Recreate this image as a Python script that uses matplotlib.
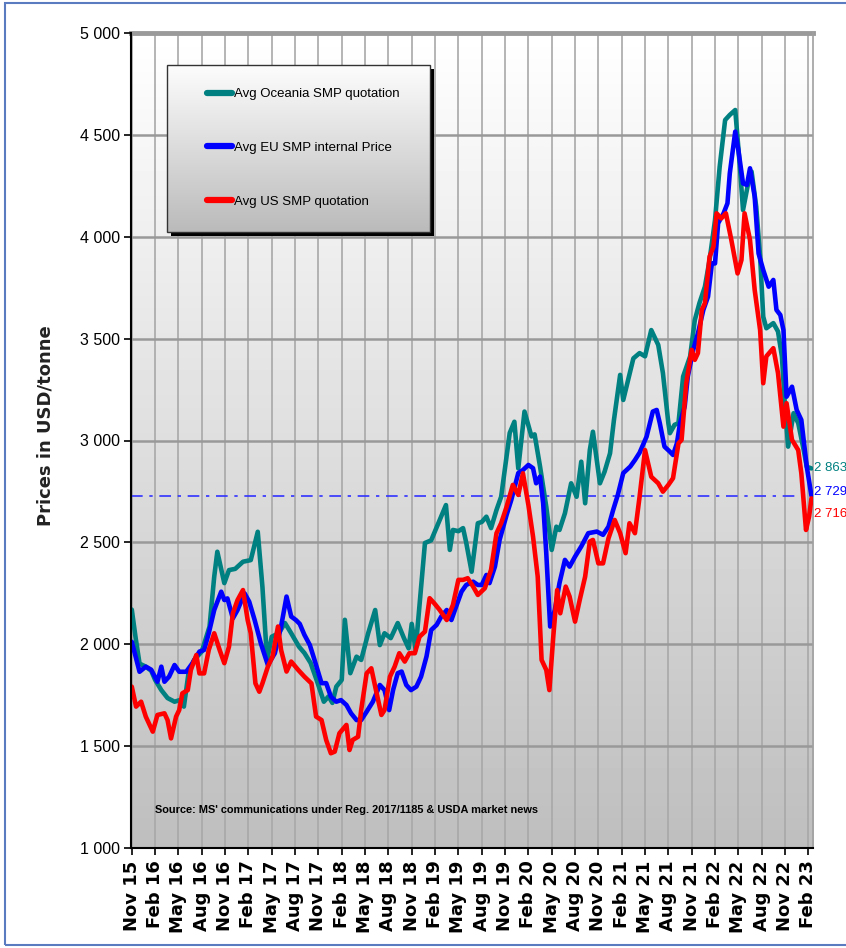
import matplotlib
matplotlib.use('Agg')
import matplotlib.pyplot as plt
import numpy as np
from matplotlib.patches import Rectangle

# ---------------- data ----------------
# x = months since Nov 2015
tick_labels = ['Nov 15', 'Feb 16', 'May 16', 'Aug 16', 'Nov 16', 'Feb 17', 'May 17', 'Aug 17',
               'Nov 17', 'Feb 18', 'May 18', 'Aug 18', 'Nov 18', 'Feb 19', 'May 19', 'Aug 19',
               'Nov 19', 'Feb 20', 'May 20', 'Aug 20', 'Nov 20', 'Feb 21', 'May 21', 'Aug 21',
               'Nov 21', 'Feb 22', 'May 22', 'Aug 22', 'Nov 22', 'Feb 23']
tick_months = [0, 3, 6, 9, 12, 15, 18, 21, 24, 27, 30, 33, 36, 39, 42, 45, 48, 51, 54, 57,
               60, 63, 66, 69, 72, 75, 78, 81, 84, 87]

oce_m = [0, 0.5, 1.0, 1.8, 2.5, 3.0, 3.8, 4.6, 5.5, 6.1, 6.7, 7.3, 8.0, 9.0, 10.0, 10.6, 11.0,
         11.9, 12.5, 13.3, 14.3, 15.3, 16.2, 16.8, 17.4, 18.0, 18.9, 19.7, 20.5, 21.5, 22.2,
         23.0, 23.9, 24.7, 25.3, 25.8, 26.3, 27.0, 27.4, 28.1, 28.9, 29.5, 30.4, 31.3, 31.9,
         32.5, 33.3, 34.2, 35.0, 35.6, 36.0, 36.5, 37.1, 37.7, 38.5, 39.6, 40.4, 40.9, 41.3,
         42.0, 42.6, 43.0, 43.7, 44.5, 45.0, 45.6, 46.2, 46.9, 47.5, 48.6, 49.2, 49.7, 50.5,
         51.4, 51.8, 52.5, 53.3, 54.0, 54.6, 55.0, 55.7, 56.5, 57.2, 57.8, 58.3, 58.9, 59.3,
         60.2, 60.8, 61.5, 62.0, 62.8, 63.2, 64.5, 65.3, 66.0, 66.8, 67.7, 68.3, 69.0, 69.2,
         69.8, 70.3, 70.9, 71.8, 72.4, 73.0, 73.7, 74.3, 75.0, 75.6, 76.3, 76.9, 77.6, 78.2,
         78.6, 79.2, 79.7, 80.3, 80.8, 81.2, 81.6, 82.5, 83.1, 83.6, 84.0, 84.4, 85.1, 85.7,
         86.4, 86.8, 87.4]
oce_v = [2170, 2030, 1905, 1890, 1870, 1825, 1775, 1736, 1718, 1725, 1694, 1859, 1922, 1964,
         2087, 2331, 2454, 2300, 2364, 2370, 2405, 2413, 2552, 2282, 1922, 2037, 2054, 2104,
         2054, 1988, 1957, 1908, 1810, 1718, 1744, 1712, 1792, 1825, 2120, 1858, 1939, 1923,
         2054, 2168, 1996, 2054, 2030, 2104, 2030, 1980, 2100, 1973, 2234, 2497, 2510, 2610,
         2683, 2463, 2561, 2555, 2570, 2500, 2356, 2594, 2600, 2626, 2570, 2659, 2724, 3037,
         3092, 2863, 3142, 3020, 3030, 2872, 2675, 2463, 2577, 2561, 2643, 2790, 2724, 2896,
         2692, 2953, 3043, 2790, 2847, 2937, 3100, 3322, 3199, 3403, 3429, 3413, 3542, 3469,
         3331, 3085, 3036, 3077, 3085, 3314, 3413, 3591, 3675, 3755, 3886, 4082, 4344, 4573,
         4598, 4622, 4344, 4131, 4250, 4320, 4147, 3902, 3608, 3551, 3576, 3535, 3413, 3167,
         2970, 3134, 3085, 2954, 2871, 2863]

eu_m = [0, 1.0, 1.8, 2.5, 3.3, 3.8, 4.2, 4.8, 5.5, 6.1, 7.0, 7.8, 8.7, 9.3, 9.9, 10.6, 11.5,
        11.9, 12.3, 13.0, 13.6, 14.5, 15.1, 15.8, 16.6, 17.5, 18.4, 19.2, 19.9, 20.5, 21.1,
        21.6, 22.2, 22.9, 23.5, 24.4, 25.0, 25.6, 26.3, 26.9, 27.6, 28.2, 28.9, 29.5, 30.2,
        31.0, 31.9, 32.5, 33.1, 33.6, 34.2, 34.7, 35.3, 35.9, 36.6, 37.2, 37.9, 38.5, 39.2,
        39.8, 40.5, 41.1, 41.7, 42.4, 43.0, 43.9, 44.5, 45.0, 45.6, 46.0, 46.7, 47.3, 48.2,
        48.8, 49.7, 50.3, 51.0, 51.6, 52.0, 52.5, 52.9, 53.3, 53.8, 54.4, 55.0, 55.7, 56.3,
        57.0, 57.8, 58.7, 59.8, 60.6, 61.3, 61.9, 62.5, 63.2, 64.1, 64.7, 65.3, 66.2, 67.0,
        67.5, 67.9, 68.5, 69.2, 69.6, 70.1, 70.5, 71.1, 71.5, 72.2, 72.8, 73.5, 74.1, 74.6,
        75.0, 75.4, 76.1, 76.6, 76.9, 77.6, 78.0, 78.6, 79.1, 79.5, 80.1, 80.6, 81.2, 81.9,
        82.5, 82.9, 83.4, 83.8, 84.2, 84.9, 85.5, 86.1, 86.8, 87.4]
eu_v = [2012, 1865, 1890, 1875, 1816, 1890, 1816, 1841, 1898, 1865, 1865, 1907, 1964, 1972,
        2054, 2168, 2258, 2217, 2225, 2127, 2168, 2250, 2209, 2119, 2004, 1898, 1956, 2087,
        2234, 2136, 2119, 2100, 2046, 1996, 1923, 1809, 1809, 1743, 1718, 1726, 1702, 1661,
        1628, 1628, 1669, 1718, 1800, 1775, 1677, 1775, 1858, 1866, 1800, 1775, 1792, 1841,
        1940, 2070, 2095, 2136, 2168, 2119, 2184, 2258, 2291, 2307, 2291, 2291, 2340, 2300,
        2381, 2512, 2635, 2708, 2840, 2855, 2880, 2864, 2790, 2823, 2692, 2447, 2087, 2168,
        2300, 2414, 2381, 2430, 2480, 2545, 2553, 2537, 2577, 2659, 2733, 2840, 2872, 2904,
        2940, 3019, 3142, 3150, 3085, 2970, 2945, 2929, 2986, 3085, 3167, 3314, 3445, 3526,
        3641, 3706, 3869, 3869, 4066, 4115, 4164, 4311, 4516, 4426, 4262, 4254, 4336, 4197,
        3918, 3837, 3755, 3788, 3641, 3616, 3542, 3215, 3264, 3150, 3101, 2871, 2729]

us_m = [0, 0.55, 1.2, 1.8, 2.7, 3.3, 4.2, 4.6, 5.05, 5.7, 6.1, 6.5, 7.2, 7.6, 8.3, 8.7, 9.3,
        9.9, 10.6, 11.3, 11.9, 12.5, 13.0, 13.6, 14.3, 14.9, 15.3, 15.9, 16.4, 16.8, 17.5,
        18.1, 18.8, 19.2, 19.9, 20.5, 21.4, 22.2, 23.1, 23.7, 24.4, 25.0, 25.6, 26.1, 26.7,
        27.6, 28.0, 28.4, 29.1, 29.5, 30.2, 30.8, 31.4, 32.1, 32.5, 33.2, 33.8, 34.4, 35.1,
        35.7, 36.4, 37.0, 37.7, 38.3, 38.9, 39.6, 40.5, 41.3, 42.0, 42.6, 43.2, 43.9, 44.5,
        45.4, 46.2, 46.9, 47.5, 48.2, 49.0, 49.7, 50.3, 51.0, 51.6, 52.2, 52.7, 53.3, 53.7,
        54.2, 54.7, 55.1, 55.8, 56.3, 57.0, 57.6, 58.3, 58.9, 59.3, 60.0, 60.6, 61.3, 62.1,
        62.8, 63.5, 64.0, 64.7, 65.3, 66.0, 66.8, 67.7, 68.3, 69.0, 69.6, 70.3, 70.7, 71.3,
        72.0, 72.4, 72.8, 73.3, 73.7, 74.3, 74.8, 75.2, 75.8, 76.4, 77.1, 77.9, 78.4, 78.8,
        79.5, 80.1, 80.8, 81.2, 81.6, 82.5, 83.1, 83.8, 84.2, 84.9, 85.7, 86.1, 86.7, 87.1,
        87.4]
us_v = [1792, 1694, 1718, 1645, 1571, 1653, 1661, 1628, 1538, 1645, 1677, 1759, 1775, 1874,
        1947, 1857, 1857, 1972, 2054, 1972, 1907, 1988, 2152, 2217, 2266, 2119, 2054, 1808,
        1767, 1808, 1890, 1940, 2087, 1972, 1866, 1915, 1874, 1841, 1808, 1645, 1628, 1530,
        1465, 1473, 1563, 1604, 1481, 1530, 1546, 1677, 1857, 1882, 1775, 1653, 1677, 1841,
        1890, 1956, 1915, 1956, 1956, 2037, 2062, 2226, 2201, 2168, 2119, 2193, 2316, 2316,
        2324, 2283, 2242, 2275, 2365, 2545, 2594, 2675, 2782, 2733, 2839, 2684, 2528, 2332,
        1923, 1874, 1775, 2037, 2266, 2152, 2283, 2234, 2111, 2217, 2332, 2504, 2512, 2397,
        2397, 2520, 2610, 2545, 2447, 2594, 2545, 2724, 2953, 2822, 2790, 2749, 2782, 2815,
        2986, 3003, 3281, 3445, 3396, 3429, 3641, 3674, 3902, 3951, 4115, 4090, 4115, 3984,
        3820, 3886, 4115, 3984, 3739, 3542, 3281, 3413, 3453, 3331, 3068, 3183, 3003, 2953,
        2839, 2561, 2627, 2716]

series_names = ['Avg Oceania SMP quotation', 'Avg EU SMP internal Price', 'Avg US SMP quotation']
series_colors = ['#008080', '#0000ff', '#ff0000']
y_ticks = [1000, 1500, 2000, 2500, 3000, 3500, 4000, 4500, 5000]
source_text = "Source: MS' communications under Reg. 2017/1185 & USDA market news"
y_title = 'Prices in USD/tonne'

NARROW = ['Liberation Sans', 'DejaVu Sans']

# ---------------- figure ----------------
W, H = 846, 948
fig = plt.figure(figsize=(W / 100, H / 100), dpi=100)
fig.patch.set_facecolor('white')

ax_l, ax_r, ax_t, ax_b = 131, 813, 33, 848
ax = fig.add_axes([ax_l / W, 1 - ax_b / H, (ax_r - ax_l) / W, (ax_b - ax_t) / H])
ax.set_xlim(-0.1, 87.6)
ax.set_ylim(1000, 5000)

# gradient background
grad = np.linspace(1.0, 0.745, 256).reshape(-1, 1)
ax.imshow(grad, cmap='gray', vmin=0, vmax=1, aspect='auto', extent=[0, 1, 0, 1],
          transform=ax.transAxes, zorder=0, interpolation='bicubic')

# grid
for m in tick_months:
    ax.axvline(m, color='#a8a8a8', lw=1.2, zorder=1)
for v in y_ticks:
    ax.axhline(v, color='#999999', lw=1.8, zorder=1)
ax.axhline(5000, color='#9a9a9a', lw=3.5, zorder=1, clip_on=False)

# reference line
ax.axhline(eu_v[-1], color='#3333ff', lw=1.2, ls=(0, (7, 4, 2, 4)), zorder=2)

# series
lines = []
for (mm, vv), name, col, z in zip([(oce_m, oce_v), (eu_m, eu_v), (us_m, us_v)],
                                  series_names, series_colors, [3, 4, 5]):
    ln, = ax.plot(mm, vv, color=col, lw=3.3, label=name, zorder=z,
                  solid_joinstyle='round', solid_capstyle='round')
    lines.append(ln)

# end labels
offsets = [0, 4, -16]
for (mm, vv), col, off in zip([(oce_m, oce_v), (eu_m, eu_v), (us_m, us_v)], series_colors, offsets):
    txt = f'{vv[-1]:,}'.replace(',', ' ')
    ax.annotate(txt, xy=(mm[-1], vv[-1]), xytext=(3, off), textcoords='offset pixels',
                color=col, fontsize=9.5, family=NARROW, va='center', ha='left',
                annotation_clip=False, zorder=6)

# axes styling
ax.set_yticks(y_ticks)
ax.set_yticklabels([f'{v:,}'.replace(',', ' ') for v in y_ticks], family=NARROW, fontsize=11.5)
ax.set_xticks(tick_months)
ax.set_xticklabels(tick_labels, rotation=90, family='DejaVu Sans', fontweight='bold', fontsize=13)
ax.tick_params(axis='y', length=5, width=1.2, color='black', pad=3)
ax.tick_params(axis='x', length=5, width=1.2, color='black', pad=4)
for s in ['left', 'bottom']:
    ax.spines[s].set_color('black')
    ax.spines[s].set_linewidth(1.5)
    ax.spines[s].set_zorder(7)
ax.spines['top'].set_visible(False)
ax.spines['right'].set_color('#a0a0a0')
ax.spines['right'].set_linewidth(1.2)

# legend box (gradient + shadow + border)
bx0, bx1 = (167 - ax_l) / (ax_r - ax_l), (430 - ax_l) / (ax_r - ax_l)
by1, by0 = 1 - (65 - ax_t) / (ax_b - ax_t), 1 - (232 - ax_t) / (ax_b - ax_t)
dx, dy = 4 / (ax_r - ax_l), 4 / (ax_b - ax_t)
ax.add_patch(Rectangle((bx0 + dx, by0 - dy), bx1 - bx0, by1 - by0, transform=ax.transAxes,
                       facecolor='black', edgecolor='none', zorder=8))
lg = np.linspace(0.99, 0.73, 256).reshape(-1, 1)
ax.imshow(lg, cmap='gray', vmin=0, vmax=1, aspect='auto', extent=[bx0, bx1, by0, by1],
          transform=ax.transAxes, zorder=9, interpolation='bicubic')
ax.add_patch(Rectangle((bx0, by0), bx1 - bx0, by1 - by0, transform=ax.transAxes,
                       facecolor='none', edgecolor='#333333', lw=1.0, zorder=10))

leg = ax.legend(handles=lines, loc='upper left', bbox_to_anchor=(207 / W, 1 - 88 / H),
                bbox_transform=fig.transFigure, frameon=False, borderpad=0, borderaxespad=0,
                handlelength=1.9, handletextpad=0.15, labelspacing=3.15,
                prop={'family': NARROW, 'size': 9.5})
leg.set_zorder(11)
for h in leg.legend_handles:
    h.set_linewidth(4.5)
    h.set_solid_capstyle('round')

# source note
ax.text((155 - ax_l) / (ax_r - ax_l), 1 - (810 - ax_t) / (ax_b - ax_t), source_text,
        transform=ax.transAxes, family=NARROW, fontweight='bold', fontsize=7.9,
        va='center', ha='left', zorder=6)

# y title
fig.text(45 / W, 1 - 426 / H, y_title, rotation=90, family='DejaVu Sans', fontweight='bold',
         fontsize=13, va='center', ha='center', color='#222222')

# outer frame (right side runs off the canvas as in the reference)
fig.add_artist(Rectangle((5 / W, 3 / H), (860 - 5) / W, (945 - 3) / H, transform=fig.transFigure,
                         facecolor='none', edgecolor='#5a7bbf', lw=1.5))

fig.savefig('out.png', dpi=100)
